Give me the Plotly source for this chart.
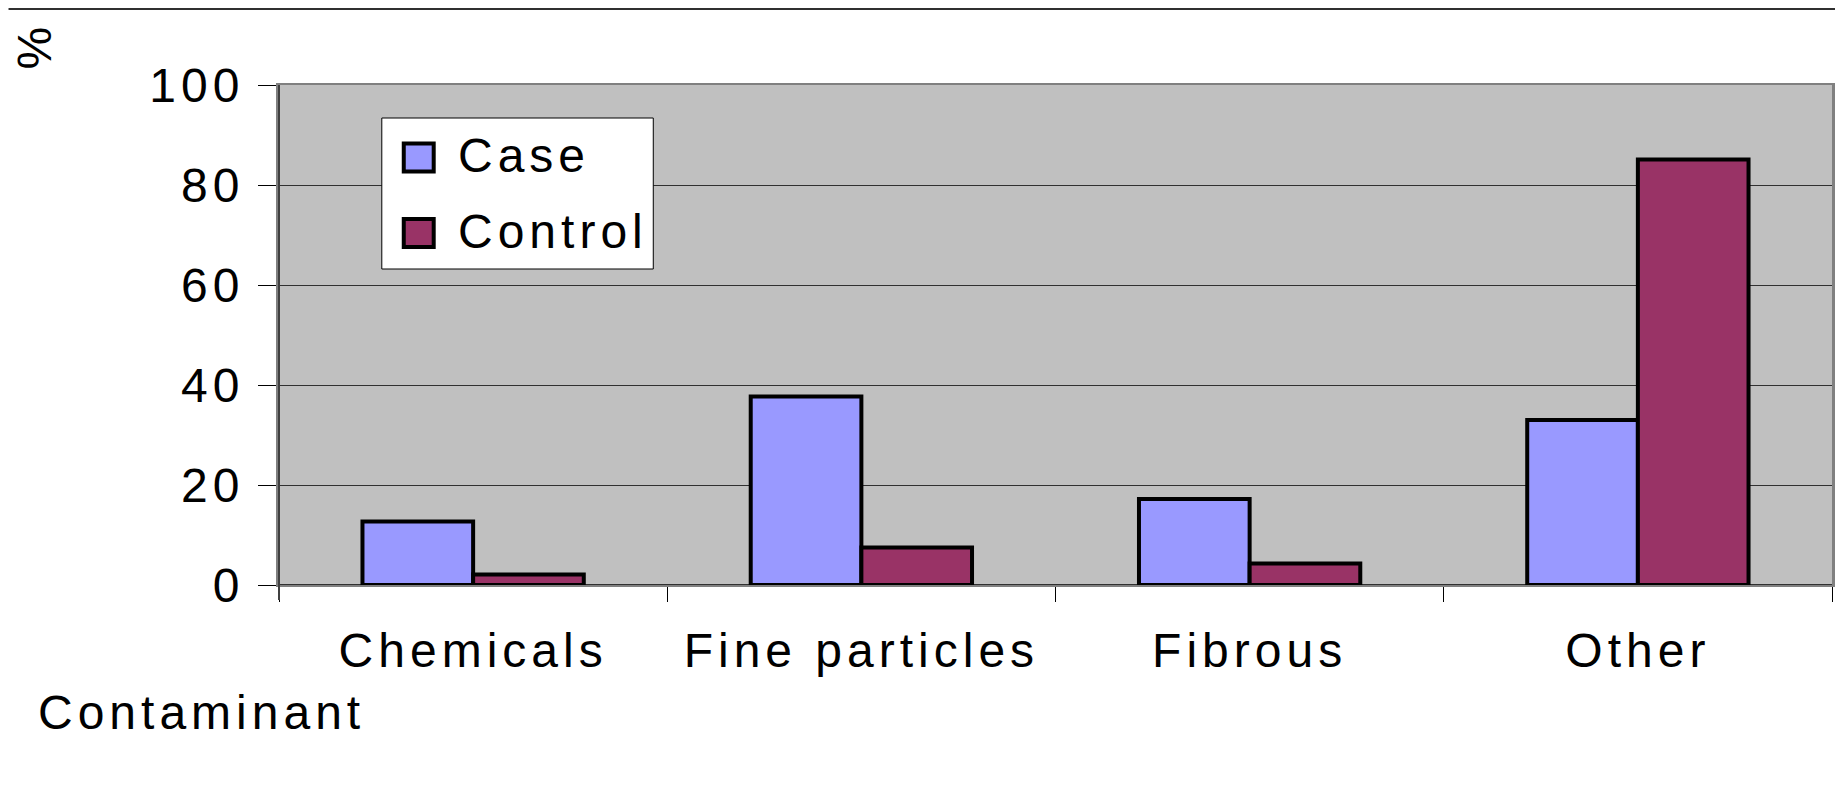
import plotly.graph_objects as go

categories = ["Chemicals", "Fine particles", "Fibrous", "Other"]
case_pct = [12.7, 37.7, 17.2, 33.0]
control_pct = [2.1, 7.5, 4.3, 85.1]
series_names = ["Case", "Control"]
y_ticks = [0, 20, 40, 60, 80, 100]

CASE_COL = "#9999FF"
CONTROL_COL = "#993366"
FONT = "Liberation Sans, Arial, sans-serif"
FS = 48
LS = 5  # letter spacing, px

# page is 1843x812; the html body has an 8px margin, so the figure is shrunk by it
OFF = 8
W, H = 1843, 812
L, R, T, B = 279, 1835, 85, 585


def xp(px):
    return (px - L) / (R - L)


def yp(py):
    return (B - py) / (B - T)


def spaced(s):
    return '<span style="letter-spacing:%dpx">%s</span>' % (LS, s)


fig = go.Figure()
fig.add_trace(go.Bar(x=categories, y=case_pct, name=series_names[0],
                     marker=dict(color=CASE_COL, line=dict(color="black", width=4)),
                     showlegend=False))
fig.add_trace(go.Bar(x=categories, y=control_pct, name=series_names[1],
                     marker=dict(color=CONTROL_COL, line=dict(color="black", width=4)),
                     showlegend=False))

fig.update_layout(
    width=W - OFF, height=H - OFF,
    margin=dict(l=L - OFF, r=W - R, t=T - OFF, b=H - B),
    paper_bgcolor="white",
    plot_bgcolor="#C0C0C0",
    barmode="group", bargap=0.43, bargroupgap=0,
    font=dict(family=FONT, size=FS, color="black"),
    xaxis=dict(tickvals=categories, ticktext=[spaced(c) for c in categories],
               tickson="boundaries", ticks="outside", ticklen=15, tickwidth=1,
               tickcolor="black", showgrid=False, showline=True, linecolor="#808080",
               linewidth=2, mirror=True, ticklabelstandoff=22),
    yaxis=dict(range=[0, 100], tickvals=y_ticks, ticktext=[spaced(str(v)) for v in y_ticks],
               ticks="outside", ticklen=18, tickwidth=1, tickcolor="black",
               showgrid=True, gridcolor="#303030", gridwidth=1,
               zeroline=True, zerolinecolor="#303030", zerolinewidth=2,
               showline=True, linecolor="#808080", linewidth=3, mirror=True,
               ticklabelstandoff=4),
)

shapes = [
    # rule across the top of the page (as high as the figure allows)
    dict(type="line", xref="paper", yref="paper", x0=xp(OFF), x1=xp(W), y0=yp(OFF + 1), y1=yp(OFF + 1),
         line=dict(color="#303030", width=2)),
    # left axis line
    dict(type="line", xref="paper", yref="paper", x0=0, x1=0, y0=yp(600), y1=1,
         line=dict(color="#404040", width=2)),
    # legend box
    dict(type="rect", xref="paper", yref="paper", x0=xp(382), x1=xp(654), y0=yp(269), y1=yp(118),
         fillcolor="white", line=dict(color="black", width=1), layer="above"),
]
legend_rows = [(series_names[0], CASE_COL, 157.5), (series_names[1], CONTROL_COL, 233)]
for name, col, cy in legend_rows:
    shapes.append(dict(type="rect", xref="paper", yref="paper",
                       x0=xp(404), x1=xp(434), y0=yp(cy + 14), y1=yp(cy - 14),
                       fillcolor=col, line=dict(color="black", width=4), layer="above"))
fig.update_layout(shapes=shapes)

annotations = [
    dict(text="%", textangle=-90, x=xp(35), y=yp(48), xref="paper", yref="paper",
         xanchor="center", yanchor="middle", showarrow=False, font=dict(size=FS)),
    dict(text=spaced("Contaminant"), x=xp(36), y=yp(712), xref="paper", yref="paper",
         xanchor="left", yanchor="middle", showarrow=False, font=dict(size=FS)),
]
for name, col, cy in legend_rows:
    annotations.append(dict(text=spaced(name), x=xp(456), y=yp(cy - 2), xref="paper", yref="paper",
                            xanchor="left", yanchor="middle", showarrow=False, font=dict(size=FS)))
fig.update_layout(annotations=annotations)

fig.write_html("out.html")
